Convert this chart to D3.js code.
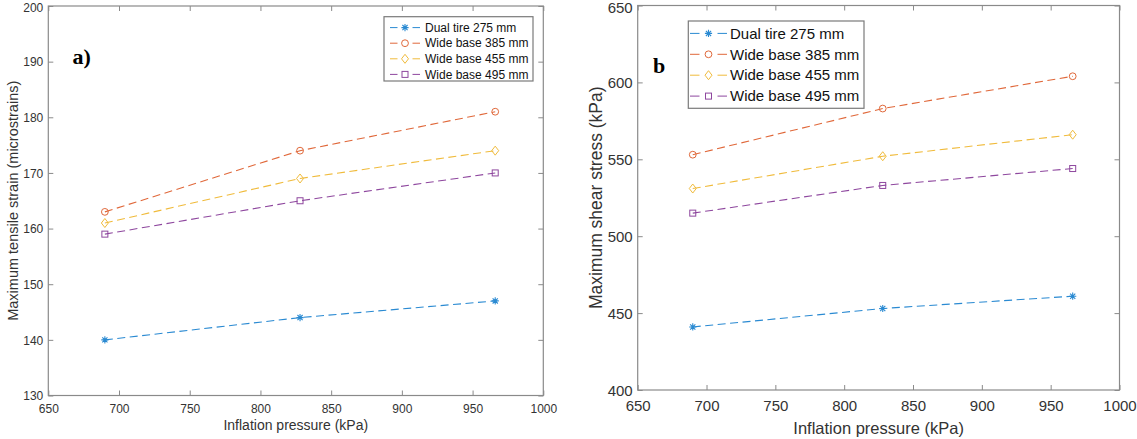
<!DOCTYPE html>
<html>
<head>
<meta charset="utf-8">
<script src="https://cdn.jsdelivr.net/npm/d3@7"></script>
<style>
  html, body { margin: 0; padding: 0; background: #fff; }
  svg { display: block; }
</style>
</head>
<body>
<svg id="chart" width="1137" height="439"></svg>
<script>
// ---------------- DATA ----------------
const pressures = [690, 828, 966];
const seriesNames = ["Dual tire 275 mm", "Wide base 385 mm", "Wide base 455 mm", "Wide base 495 mm"];
const seriesColors = ["#2a8ad2", "#e0683a", "#f0bb3c", "#8e479e"];
const seriesMarkers = ["star", "circle", "diamond", "square"];

const strainDual275 = [140, 144, 147];
const strainWide385 = [163, 174, 181];
const strainWide455 = [161, 169, 174];
const strainWide495 = [159, 165, 170];

const shearDual275 = [441, 453, 461];
const shearWide385 = [553, 583, 604];
const shearWide455 = [531, 552, 566];
const shearWide495 = [515, 533, 544];

const xTicks = [650, 700, 750, 800, 850, 900, 950, 1000];
const strainTicks = [130, 140, 150, 160, 170, 180, 190, 200];
const shearTicks = [400, 450, 500, 550, 600, 650];

// ---------------- LAYOUT ----------------
const svg = d3.select("#chart");
const SANS = "'Liberation Sans', Arial, sans-serif";
const SERIF = "'Liberation Serif', 'Times New Roman', serif";
const textColor = "#333";
const axisColor = "#8a8a8a";

const panels = [
  {
    x0: 48.3, x1: 543.3, y0: 6, y1: 395.5,
    yDomain: [130, 200], yTicks: strainTicks,
    series: [strainDual275, strainWide385, strainWide455, strainWide495],
    yLabel: "Maximum tensile strain (microstrains)", yLabelX: 13, yLabelSize: 14.5,
    xLabel: "Inflation pressure (kPa)", xLabelY: 430, xLabelSize: 14,
    tickSize: 12, xTickY: 412.5, tickLen: 5,
    tag: "a)", tagX: 72.5, tagY: 64, tagSize: 22,
    legend: { x0: 384, y0: 16.7, x1: 533, y1: 81, textX: 425, rowY: 27.6, step: 15.6,
              fs: 12, l0: 390, l1: 420, dash: 7.5 }
  },
  {
    x0: 637.7, x1: 1119.5, y0: 5.5, y1: 390,
    yDomain: [400, 650], yTicks: shearTicks,
    series: [shearDual275, shearWide385, shearWide455, shearWide495],
    yLabel: "Maximum shear stress (kPa)", yLabelX: 596, yLabelSize: 17.5,
    xLabel: "Inflation pressure (kPa)", xLabelY: 434, xLabelSize: 16.5,
    tickSize: 15, xTickY: 410.5, tickLen: 5,
    tag: "b", tagX: 653, tagY: 72.5, tagSize: 22,
    legend: { x0: 688.3, y0: 21, x1: 864, y1: 108.3, textX: 730, rowY: 33.4, step: 20.9,
              fs: 15, l0: 690, l1: 727, dash: 9.5 }
  }
];

function drawMarker(g, type, cx, cy, color) {
  if (type === "circle") {
    g.append("circle").attr("cx", cx).attr("cy", cy).attr("r", 3.4)
      .attr("fill", "none").attr("stroke", color).attr("stroke-width", 1);
  } else if (type === "diamond") {
    g.append("path")
      .attr("d", `M${cx},${cy - 4.5}L${cx + 3.5},${cy}L${cx},${cy + 4.5}L${cx - 3.5},${cy}Z`)
      .attr("fill", "none").attr("stroke", color).attr("stroke-width", 1);
  } else if (type === "square") {
    g.append("rect").attr("x", cx - 3).attr("y", cy - 3).attr("width", 6).attr("height", 6)
      .attr("fill", "none").attr("stroke", color).attr("stroke-width", 1);
  } else if (type === "star") {
    const r = 3.6, d = r * 0.72;
    g.append("path")
      .attr("d", `M${cx - r},${cy}L${cx + r},${cy}M${cx},${cy - r}L${cx},${cy + r}` +
                 `M${cx - d},${cy - d}L${cx + d},${cy + d}M${cx - d},${cy + d}L${cx + d},${cy - d}`)
      .attr("fill", "none").attr("stroke", color).attr("stroke-width", 1.1);
  }
}

panels.forEach(p => {
  const g = svg.append("g");
  const x = d3.scaleLinear().domain([650, 1000]).range([p.x0, p.x1]);
  const y = d3.scaleLinear().domain(p.yDomain).range([p.y1, p.y0]);

  // Axes via d3-axis (inward ticks)
  const styleAxis = sel => {
    sel.select(".domain").remove();
    sel.selectAll(".tick line").attr("stroke", axisColor).attr("stroke-width", 1);
    sel.selectAll(".tick text").attr("fill", textColor)
      .style("font-family", SANS).style("font-size", p.tickSize + "px");
  };
  const bottom = g.append("g").attr("transform", `translate(0,${p.y1})`)
    .call(d3.axisBottom(x).tickValues(xTicks).tickSizeInner(-p.tickLen).tickSizeOuter(0)
      .tickPadding(p.xTickY - p.y1 - 3).tickFormat(d3.format("d")));
  styleAxis(bottom);
  bottom.selectAll(".tick text").attr("dy", "0").attr("y", p.xTickY - p.y1);
  const top = g.append("g").attr("transform", `translate(0,${p.y0})`)
    .call(d3.axisTop(x).tickValues(xTicks).tickSizeInner(-p.tickLen).tickSizeOuter(0).tickFormat(""));
  styleAxis(top);
  const left = g.append("g").attr("transform", `translate(${p.x0},0)`)
    .call(d3.axisLeft(y).tickValues(p.yTicks).tickSizeInner(-p.tickLen).tickSizeOuter(0)
      .tickPadding(10).tickFormat(d3.format("d")));
  styleAxis(left);
  left.selectAll(".tick text").attr("x", -5).attr("dy", "0.35em")
    .attr("y", d => (y(d) < 10 ? 1.5 : 0));
  const right = g.append("g").attr("transform", `translate(${p.x1},0)`)
    .call(d3.axisRight(y).tickValues(p.yTicks).tickSizeInner(-p.tickLen).tickSizeOuter(0).tickFormat(""));
  styleAxis(right);

  // Frame
  g.append("rect").attr("x", p.x0).attr("y", p.y0)
    .attr("width", p.x1 - p.x0).attr("height", p.y1 - p.y0)
    .attr("fill", "none").attr("stroke", axisColor).attr("stroke-width", 1.2);

  // Series
  const line = d3.line().x((d, i) => x(pressures[i])).y(d => y(d));
  p.series.forEach((vals, si) => {
    g.append("path").datum(vals).attr("d", line)
      .attr("fill", "none").attr("stroke", seriesColors[si]).attr("stroke-width", 1.1)
      .attr("stroke-dasharray", "8,4.5");
    vals.forEach((v, i) => drawMarker(g, seriesMarkers[si], x(pressures[i]), y(v), seriesColors[si]));
  });

  // Axis labels
  g.append("text").attr("x", (p.x0 + p.x1) / 2).attr("y", p.xLabelY)
    .attr("text-anchor", "middle").attr("fill", textColor)
    .style("font-family", SANS).style("font-size", p.xLabelSize + "px").text(p.xLabel);
  g.append("text")
    .attr("transform", `translate(${p.yLabelX},${(p.y0 + p.y1) / 2}) rotate(-90)`)
    .attr("text-anchor", "middle").attr("dominant-baseline", "central").attr("fill", textColor)
    .style("font-family", SANS).style("font-size", p.yLabelSize + "px").text(p.yLabel);

  // Panel tag
  g.append("text").attr("x", p.tagX).attr("y", p.tagY).attr("fill", "#000")
    .style("font-family", SERIF).style("font-weight", "bold").style("font-size", p.tagSize + "px")
    .text(p.tag);

  // Legend
  const L = p.legend;
  const lg = g.append("g");
  lg.append("rect").attr("x", L.x0).attr("y", L.y0).attr("width", L.x1 - L.x0).attr("height", L.y1 - L.y0)
    .attr("fill", "#fff").attr("stroke", "#7a7a7a").attr("stroke-width", 1.2);
  seriesNames.forEach((name, si) => {
    const cy = L.rowY + si * L.step;
    const mid = (L.l0 + L.l1) / 2;
    lg.append("line").attr("x1", L.l0).attr("x2", L.l0 + L.dash).attr("y1", cy).attr("y2", cy)
      .attr("stroke", seriesColors[si]).attr("stroke-width", 1);
    lg.append("line").attr("x1", L.l1 - L.dash).attr("x2", L.l1).attr("y1", cy).attr("y2", cy)
      .attr("stroke", seriesColors[si]).attr("stroke-width", 1);
    drawMarker(lg, seriesMarkers[si], mid, cy, seriesColors[si]);
    lg.append("text").attr("x", L.textX).attr("y", cy).attr("dy", "0.35em").attr("fill", "#111")
      .style("font-family", SANS).style("font-size", L.fs + "px").text(name);
  });
});
</script>
</body>
</html>
